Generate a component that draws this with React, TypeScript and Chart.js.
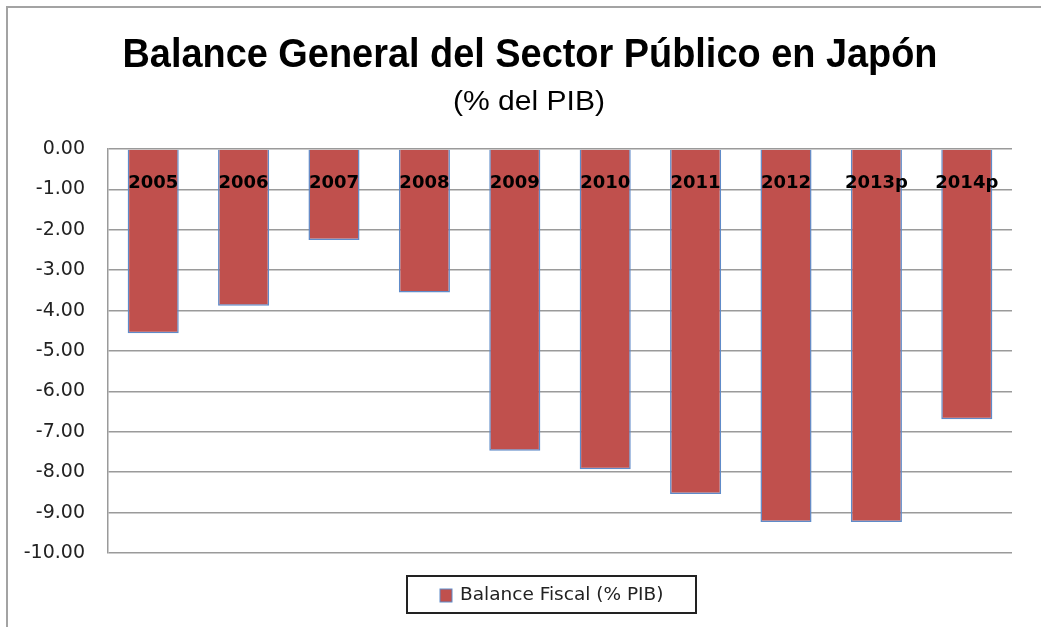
import React, { useEffect, useRef } from "react";
import { Chart, registerables } from "chart.js";

Chart.register(...registerables);

const categories = ["2005", "2006", "2007", "2008", "2009", "2010", "2011", "2012", "2013p", "2014p"];
const balanceFiscal = [-4.56, -3.88, -2.25, -3.55, -7.47, -7.93, -8.54, -9.23, -9.23, -6.69];
const seriesLabel = "Balance Fiscal (% PIB)";
const titleText = "Balance General del Sector Público en Japón";
const subtitleText = "(% del PIB)";
const yMin = -10;
const yMax = 0;
const yStep = 1;

const BAR_FILL = "#C0504D";
const BAR_BORDER = "#5F8BC9";
const GRID = "#9a9a9a";
const LABEL_Y = -0.84;

function drawFitted(ctx: CanvasRenderingContext2D, text: string, font: string, cx: number, cy: number, targetW: number) {
  ctx.save();
  ctx.font = font;
  ctx.textAlign = "center";
  ctx.textBaseline = "middle";
  const w = ctx.measureText(text).width;
  const sx = w > 0 ? targetW / w : 1;
  ctx.translate(cx, cy);
  ctx.scale(sx, 1);
  ctx.fillStyle = "#000";
  ctx.fillText(text, 0, 0);
  ctx.restore();
}

const decorPlugin = {
  id: "decor",
  beforeDraw(chart: any) {
    const ctx = chart.ctx as CanvasRenderingContext2D;
    ctx.save();
    ctx.fillStyle = "#fff";
    ctx.fillRect(0, 0, chart.width, chart.height);
    ctx.strokeStyle = "#a3a3a3";
    ctx.lineWidth = 2;
    ctx.beginPath();
    ctx.moveTo(7, chart.height);
    ctx.lineTo(7, 7);
    ctx.lineTo(chart.width, 7);
    ctx.stroke();
    ctx.restore();
    drawFitted(ctx, titleText, "bold 40px 'Liberation Sans', sans-serif", 530, 56, 815);
    drawFitted(ctx, subtitleText, "27px 'Liberation Sans', sans-serif", 529, 103, 152);
  },
  afterDatasetsDraw(chart: any) {
    const ctx = chart.ctx as CanvasRenderingContext2D;
    const xs = chart.scales.x;
    const ys = chart.scales.y;
    ctx.save();
    ctx.font = "bold 18px 'DejaVu Sans', sans-serif";
    ctx.fillStyle = "#000";
    ctx.textAlign = "center";
    ctx.textBaseline = "middle";
    const labels = chart.data.labels as string[];
    labels.forEach((lab, i) => {
      ctx.fillText(lab, xs.getPixelForValue(i), ys.getPixelForValue(LABEL_Y));
    });
    ctx.restore();
  },
  afterDraw(chart: any) {
    const ctx = chart.ctx as CanvasRenderingContext2D;
    const ds = chart.data.datasets[0];
    ctx.save();
    ctx.strokeStyle = "#222";
    ctx.lineWidth = 2;
    ctx.strokeRect(407, 576, 289, 37);
    ctx.fillStyle = ds.backgroundColor;
    ctx.fillRect(440, 589, 12, 13);
    ctx.strokeStyle = ds.borderColor;
    ctx.lineWidth = 1;
    ctx.strokeRect(440, 589, 12, 13);
    ctx.font = "18.5px 'DejaVu Sans', sans-serif";
    ctx.fillStyle = "#222";
    ctx.textAlign = "left";
    ctx.textBaseline = "middle";
    ctx.fillText(ds.label, 460, 595);
    ctx.restore();
  },
};

export default function App() {
  const ref = useRef<HTMLCanvasElement | null>(null);
  useEffect(() => {
    if (!ref.current) return;
    const chart = new Chart(ref.current, {
      type: "bar",
      data: {
        labels: categories,
        datasets: [
          {
            label: seriesLabel,
            data: balanceFiscal,
            backgroundColor: BAR_FILL,
            borderColor: BAR_BORDER,
            borderWidth: 1.5,
            barPercentage: 0.565,
            categoryPercentage: 1,
          },
        ],
      },
      options: {
        responsive: false,
        animation: false,
        layout: { padding: { top: 149, bottom: 74, right: 29, left: 0 } },
        plugins: {
          legend: { display: false },
          title: { display: false },
          tooltip: { enabled: false },
        },
        scales: {
          x: { display: false, grid: { display: false } },
          y: {
            min: yMin,
            max: yMax,
            afterFit(scale: any) {
              scale.width = 108;
            },
            ticks: {
              stepSize: yStep,
              padding: 23,
              color: "#222",
              font: { family: "'DejaVu Sans', sans-serif", size: 19 },
              callback: (v: any) => Number(v).toFixed(2),
            },
            grid: { color: GRID, lineWidth: 1.5, drawTicks: false },
            border: { display: true, color: GRID, width: 1.5 },
          },
        },
      },
      plugins: [decorPlugin],
    });
    return () => chart.destroy();
  }, []);
  return (
    <div style={{ position: "absolute", left: 0, top: 0, width: 1041, height: 627 }}>
      <canvas ref={ref} width={1041} height={627} style={{ width: 1041, height: 627, display: "block" }} />
    </div>
  );
}
